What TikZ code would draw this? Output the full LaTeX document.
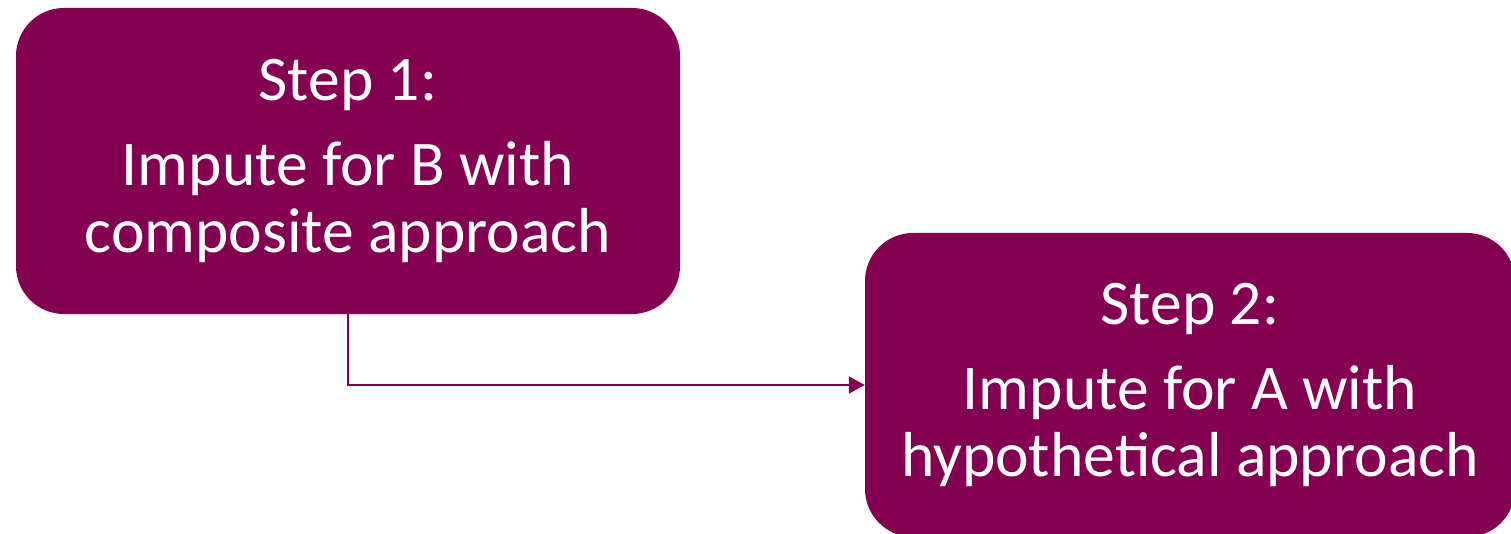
\documentclass[tikz,border=0pt]{standalone}
\usepackage{fontspec}
\setmainfont{Carlito}
\usepackage{tikz}
\usetikzlibrary{arrows.meta}
\definecolor{plum}{RGB}{132,0,80}

\begin{document}
\begin{tikzpicture}[x=1pt,y=-1pt,
  stepbox/.style={fill=plum, text=white, rounded corners=48pt, align=center,
    inner sep=0pt, font=\fontsize{63.6}{67}\selectfont},
  link/.style={draw=plum, line width=2pt, -{Triangle[length=16pt,width=17pt]}}]
% Two-step imputation
\useasboundingbox (0,0) rectangle (1511,534);
\node (step1) at (348,161) [stepbox, minimum width=664pt, minimum height=306pt] {Step 1:\\[18pt]Impute for B with\\composite approach};
\node (step2) at (1190,385) [stepbox, minimum width=650pt, minimum height=304pt] {Step 2:\\[18pt]Impute for A with\\hypothetical approach};
\draw[link] (step1.south) |- (step2.west);
\end{tikzpicture}
\end{document}
